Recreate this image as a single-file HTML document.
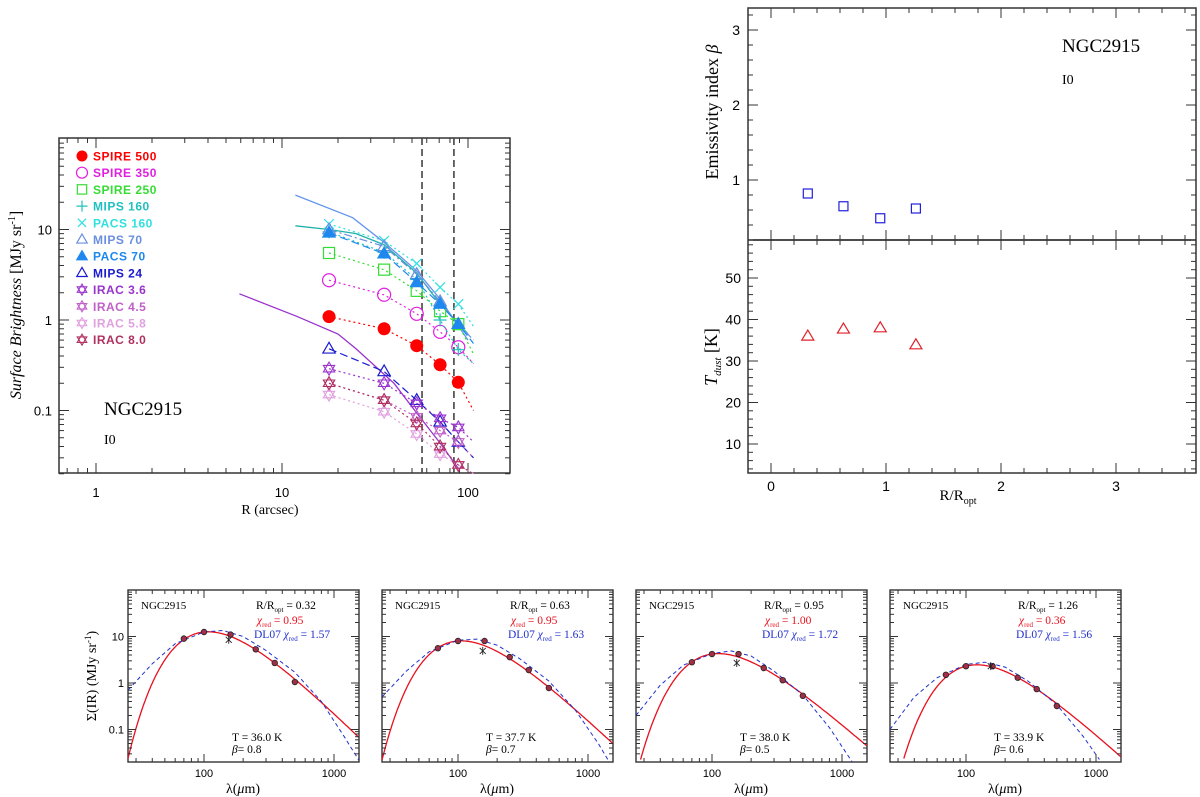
<!DOCTYPE html>
<html><head><meta charset="utf-8">
<style>
html,body{margin:0;padding:0;background:#fff;}
svg{display:block;font-family:"Liberation Sans",sans-serif;}
.serif{font-family:"Liberation Serif",serif;}
</style></head>
<body>
<svg id="fig" width="1200" height="797" viewBox="0 0 1200 797" xmlns="http://www.w3.org/2000/svg"></svg>
<script>
// ---------- Left panel data ----------
const radii = [17.9, 35.4, 53, 70.8, 88.7];
const bandNames = ["SPIRE 500","SPIRE 350","SPIRE 250","MIPS 160","PACS 160","MIPS 70","PACS 70","MIPS 24","IRAC 3.6","IRAC 4.5","IRAC 5.8","IRAC 8.0"];
const spire500 = [1.09, 0.8, 0.52, 0.32, 0.205];
const spire350 = [2.75, 1.9, 1.17, 0.74, 0.5];
const spire250 = [5.5, 3.6, 2.1, 1.25, 0.9];
const mips160 = [9.4, 5.6, 2.8, 1.0, 0.47];
const pacs160 = [11.5, 7.5, 4.2, 2.3, 1.5];
const mips70 = [10, 6.5, 3.2, 1.6, 0.9];
const pacs70 = [9.2, 5.4, 2.6, 1.5, 0.9];
const mips24 = [0.48, 0.27, 0.13, 0.075, 0.045];
const irac36 = [0.29, 0.2, 0.12, 0.082, 0.065];
const irac45 = [0.2, 0.13, 0.085, 0.06, 0.045];
const irac58 = [0.15, 0.097, 0.055, 0.033, 0.025];
const irac80 = [0.2, 0.13, 0.072, 0.04, 0.025];
const extR = 107;
const extVals = [0.1, 0.33, 0.42, 0.6, 0.85, 0.6, 0.55, 0.03, 0.045, 0.03, 0.02, 0.02];
const profR1 = [11.8, 24, 35.4, 53, 70.8, 100];
const profV1 = [24, 13.5, 7.2, 3.5, 1.7, 0.6];
const profR2 = [11.8, 17.9, 25, 35.4, 53, 70.8, 100];
const profV2 = [11, 10, 9, 6.8, 3.3, 1.5, 0.7];
const profR3 = [5.9, 12, 20, 25, 40, 55, 70, 90];
const profV3 = [1.95, 1.1, 0.7, 0.48, 0.2, 0.085, 0.045, 0.022];
const vlinesR = [56.6, 84];
// ---------- Right panels data ----------
const rRopt = [0.32, 0.63, 0.95, 1.26];
const betaVals = [0.82, 0.65, 0.49, 0.62];
const tdustVals = [36.0, 37.7, 38.0, 33.9];
// ---------- SED panels data ----------
const sedLam = [70, 100, 160, 250, 350, 500];
const sedP1 = [9, 12.5, 11, 5.3, 2.7, 1.05];
const sedP2 = [5.6, 8.0, 8.0, 3.6, 1.9, 0.78];
const sedP3 = [2.8, 4.2, 4.2, 2.1, 1.15, 0.53];
const sedP4 = [1.5, 2.3, 2.3, 1.3, 0.74, 0.32];
const mips160Sed = [8.5, 4.9, 2.7, 2.3];
const chiMBB = ["0.95", "0.95", "1.00", "0.36"];
const chiDL = ["1.57", "1.63", "1.72", "1.56"];
const dlLam = [26, 40, 60, 100, 140, 200, 300, 500, 800, 1200, 1550];
const dlP1 = [0.7, 2.6, 7, 12.5, 13.5, 10, 5, 1.7, 0.4, 0.07, 0.022];
const dlP2 = [0.5, 1.8, 4.7, 8.3, 8.8, 6.5, 3.3, 1.1, 0.26, 0.05, 0.015];
const dlP3 = [0.2, 0.9, 2.4, 4.3, 4.9, 3.8, 1.8, 0.55, 0.11, 0.02, 0.006];
const dlP4 = [0.1, 0.5, 1.3, 2.5, 2.8, 2.2, 1.1, 0.34, 0.07, 0.014, 0.005];

const NS = "http://www.w3.org/2000/svg";
const svg = document.getElementById("fig");
function mk(tag, attrs, parent) {
  const e = document.createElementNS(NS, tag);
  for (const k in attrs) e.setAttribute(k, attrs[k]);
  (parent || svg).appendChild(e);
  return e;
}
function grp(name) {
  const g = mk("g", {});
  
  
  return g;
}
function txt(g, x, y, s, attrs) {
  const t = mk("text", Object.assign({x: x, y: y}, attrs || {}), g);
  t.innerHTML = s;
  return t;
}
const L10 = Math.log10;

// ================= LEFT PANEL =================
const lx = r => 96 + 186 * L10(r);
const ly = v => 320 - 90.5 * L10(v);
{
  const g = grp("surface-brightness-panel");
  const fr = mk("rect", {x: 59, y: 138, width: 451, height: 335, fill: "none", stroke: "#333", "stroke-width": 1.5}, g);
  
  
  const ax = grp("axes-ticks");
  for (let d = -1; d <= 2; d++) for (let m = 1; m <= 9; m++) {
    const r = m * Math.pow(10, d);
    if (r < 0.63 || r > 168) continue;
    const x = lx(r), len = m === 1 ? 10 : 5;
    mk("line", {x1: x, y1: 473, x2: x, y2: 473 - len, stroke: "#333"}, ax);
    mk("line", {x1: x, y1: 138, x2: x, y2: 138 + len, stroke: "#333"}, ax);
  }
  for (let d = -2; d <= 1; d++) for (let m = 1; m <= 9; m++) {
    const v = m * Math.pow(10, d);
    if (v < 0.02 || v > 100) continue;
    const y = ly(v), len = m === 1 ? 10 : 5;
    mk("line", {x1: 59, y1: y, x2: 59 + len, y2: y, stroke: "#333"}, ax);
    mk("line", {x1: 510, y1: y, x2: 510 - len, y2: y, stroke: "#333"}, ax);
  }
  [[1,"1"],[10,"10"],[100,"100"]].forEach(p => {
    const t = txt(ax, lx(p[0]), 497, p[1], {"text-anchor": "middle", "font-size": 13});
    
    
  });
  [[10,"10"],[1,"1"],[0.1,"0.1"]].forEach(p => {
    const t = txt(ax, 52, ly(p[0]) + 5, p[1], {"text-anchor": "end", "font-size": 13});
    
    
  });
  const xt = txt(g, 270, 514, "R (arcsec)", {"text-anchor": "middle", "font-size": 14, "class": "serif"});
  
  
  const yt = txt(g, 0, 0, '<tspan font-style="italic">Surface Brightness</tspan> [MJy sr<tspan dy="-6" font-size="10">-1</tspan><tspan dy="6">]</tspan>', {"text-anchor": "middle", "font-size": 16, "class": "serif", transform: "translate(21,305) rotate(-90)"});
  
  
  const n1 = txt(g, 104, 415, "NGC2915", {"font-size": 19, "class": "serif"});
  
  
  const n2 = txt(g, 104, 444, "I0", {"font-size": 14, "class": "serif"});
  
  

  vlinesR.forEach(r => {
    const l = mk("line", {x1: lx(r), y1: 138, x2: lx(r), y2: 473, stroke: "#444", "stroke-width": 1.6, "stroke-dasharray": "7,4"}, g);
    
    
  });

  const pathOf = (rs, vs) => rs.map((r, i) => (i ? "L" : "M") + lx(r).toFixed(1) + "," + ly(vs[i]).toFixed(1)).join(" ");
  [[profR1, profV1, "#6495ed", "mips70-profile"], [profR2, profV2, "#20b2aa", "mips160-profile"], [profR3, profV3, "#9932cc", "irac36-profile"]].forEach(p => {
    const l = mk("path", {d: pathOf(p[0], p[1]), fill: "none", stroke: p[2], "stroke-width": 1.3}, g);
    
    
  });

  const series = [spire500, spire350, spire250, mips160, pacs160, mips70, pacs70, mips24, irac36, irac45, irac58, irac80];
  const colors = ["#ff0000","#e020e0","#33dd33","#20c0c0","#30e0e0","#6a8fe0","#1e88ee","#1a1ad0","#9933cc","#c060c8","#e0a0e0","#b03060"];
  const markers = ["fcircle","circle","square","plus","cross","tri","ftri","tri","star","star","star","star"];
  const dashes = ["2,3","2,3","2,3","2,3","2,3","8,3,2,3","8,4","8,4","2,3","2,3","2,3","2,3"];
  function marker(gg, type, x, y, c, s) {
    let e;
    if (type === "fcircle") e = mk("circle", {cx: x, cy: y, r: s, fill: c}, gg);
    else if (type === "circle") e = mk("circle", {cx: x, cy: y, r: s, fill: "none", stroke: c, "stroke-width": 1.2}, gg);
    else if (type === "square") e = mk("rect", {x: x - s * 0.85, y: y - s * 0.85, width: s * 1.7, height: s * 1.7, fill: "none", stroke: c, "stroke-width": 1.2}, gg);
    else if (type === "plus") e = mk("path", {d: `M${x-s},${y}H${x+s}M${x},${y-s}V${y+s}`, stroke: c, "stroke-width": 1.2}, gg);
    else if (type === "cross") e = mk("path", {d: `M${x-s*.75},${y-s*.75}L${x+s*.75},${y+s*.75}M${x-s*.75},${y+s*.75}L${x+s*.75},${y-s*.75}`, stroke: c, "stroke-width": 1.2}, gg);
    else if (type === "tri" || type === "ftri") e = mk("path", {d: `M${x},${y-s}L${x+s*.95},${y+s*.65}L${x-s*.95},${y+s*.65}Z`, fill: type === "ftri" ? c : "none", stroke: c, "stroke-width": 1.2}, gg);
    else if (type === "star") e = mk("path", {d: `M${x},${y-s}L${x+s*.87},${y+s*.5}L${x-s*.87},${y+s*.5}ZM${x},${y+s}L${x+s*.87},${y-s*.5}L${x-s*.87},${y-s*.5}Z`, fill: "none", stroke: c, "stroke-width": 1.1}, gg);
    return e;
  }
  series.forEach((vals, si) => {
    const sg = grp("series-" + bandNames[si].toLowerCase().replace(/[ .]/g, "-"));
    const ev = extVals[si] < vals[4] ? extVals[si] : vals[4] * 0.7;
    const d = pathOf(radii.concat([extR]), vals.concat([ev]));
    const l = mk("path", {d: d, fill: "none", stroke: colors[si], "stroke-width": 1.2, "stroke-dasharray": dashes[si]}, sg);
    
    
    radii.forEach((r, i) => {
      const m = marker(sg, markers[si], lx(r), ly(vals[i]), colors[si], 6.5);
      
      
    });
  });
  const lg = grp("legend");
  bandNames.forEach((n, i) => {
    const y = 156 + i * 16.7;
    const m = marker(lg, markers[i], 82, y, colors[i], 5.5);
    
    
    const t = txt(lg, 93, y + 4.5, n, {"font-size": 12, fill: colors[i], "font-weight": "bold", "letter-spacing": "0.5"});
    
    
  });
}

// ================= RIGHT PANELS =================
const rx = v => 771 + 115 * v;
const by = b => 180 - 75 * (b - 1);
const ty = t => 444 - 4.15 * (t - 10);
{
  const g = grp("beta-tdust-panels");
  const fr = mk("rect", {x: 748, y: 8, width: 448, height: 465, fill: "none", stroke: "#333", "stroke-width": 1.5}, g);
  
  
  const mid = mk("line", {x1: 748, y1: 240, x2: 1196, y2: 240, stroke: "#111", "stroke-width": 1.5}, g);
  
  
  const ax = grp("right-axes-ticks");
  for (let k = -1; k <= 18; k++) {
    const v = k * 0.2, x = rx(v);
    if (x < 748 || x > 1196) continue;
    const len = k % 5 === 0 ? 10 : 5;
    [[8, 1], [240, 1], [240, -1], [473, -1]].forEach(p => mk("line", {x1: x, y1: p[0], x2: x, y2: p[0] + p[1] * len, stroke: "#333"}, ax));
  }
  for (let k = 1; k <= 16; k++) {
    const b = k * 0.2, y = by(b);
    if (y < 8 || y > 240) continue;
    const len = k % 5 === 0 ? 10 : 5;
    mk("line", {x1: 748, y1: y, x2: 748 + len, y2: y, stroke: "#333"}, ax);
    mk("line", {x1: 1196, y1: y, x2: 1196 - len, y2: y, stroke: "#333"}, ax);
  }
  for (let t = 4; t <= 58; t += 2) {
    const y = ty(t), len = t % 10 === 0 ? 10 : 5;
    mk("line", {x1: 748, y1: y, x2: 748 + len, y2: y, stroke: "#333"}, ax);
    mk("line", {x1: 1196, y1: y, x2: 1196 - len, y2: y, stroke: "#333"}, ax);
  }
  [0,1,2,3].forEach(v => {
    const t = txt(ax, rx(v), 491, String(v), {"text-anchor": "middle", "font-size": 14});
    
    
  });
  [1,2,3].forEach(v => {
    const t = txt(ax, 740, by(v) + 5, String(v), {"text-anchor": "end", "font-size": 14});
    
    
  });
  [10,20,30,40,50].forEach(v => {
    const t = txt(ax, 741, ty(v) + 5, String(v), {"text-anchor": "end", "font-size": 14});
    
    
  });
  const xt = txt(g, 958, 500, 'R/R<tspan dy="4" font-size="10">opt</tspan>', {"text-anchor": "middle", "font-size": 15, "class": "serif"});
  
  
  const yt1 = txt(g, 0, 0, 'Emissivity index <tspan font-style="italic">β</tspan>', {"text-anchor": "middle", "font-size": 18, "class": "serif", transform: "translate(718,112) rotate(-90)"});
  
  
  const yt2 = txt(g, 0, 0, '<tspan font-style="italic">T</tspan><tspan dy="4" font-size="11" font-style="italic">dust</tspan><tspan dy="-4"> [K]</tspan>', {"text-anchor": "middle", "font-size": 18, "class": "serif", transform: "translate(717,357) rotate(-90)"});
  
  
  const n1 = txt(g, 1062, 52, "NGC2915", {"font-size": 19, "class": "serif"});
  
  
  const n2 = txt(g, 1062, 84, "I0", {"font-size": 14, "class": "serif"});
  
  
  rRopt.forEach((r, i) => {
    const s = mk("rect", {x: rx(r) - 4.5, y: by(betaVals[i]) - 4.5, width: 9, height: 9, fill: "none", stroke: "#2020dd", "stroke-width": 1.2}, g);
    
    
    const x = rx(r), y = ty(tdustVals[i]);
    const t = mk("path", {d: `M${x},${y-6}L${x+6},${y+4}L${x-6},${y+4}Z`, fill: "none", stroke: "#e0202a", "stroke-width": 1.2}, g);
    
    
  });
}

// ================= SED PANELS =================
const sedSets = [sedP1, sedP2, sedP3, sedP4];
const dlSets = [dlP1, dlP2, dlP3, dlP4];
for (let p = 0; p < 4; p++) {
  const L = 128 + 254 * p;
  const sx = l => L + 76 + 130 * L10(l / 100);
  const sy = v => 683 - 46.5 * L10(v);
  const g = grp("sed-panel-" + (p + 1));
  const fr = mk("rect", {x: L, y: 590, width: 231, height: 172, fill: "none", stroke: "#333", "stroke-width": 1.4}, g);
  
  
  const ax = grp("sed-axes-ticks");
  for (let d = 1; d <= 3; d++) for (let m = 1; m <= 9; m++) {
    const l = m * Math.pow(10, d);
    const x = sx(l);
    if (x < L || x > L + 231) continue;
    const len = m === 1 ? 8 : 4;
    mk("line", {x1: x, y1: 762, x2: x, y2: 762 - len, stroke: "#333"}, ax);
    mk("line", {x1: x, y1: 590, x2: x, y2: 590 + len, stroke: "#333"}, ax);
  }
  for (let d = -2; d <= 1; d++) for (let m = 1; m <= 9; m++) {
    const v = m * Math.pow(10, d), y = sy(v);
    if (y < 590 || y > 762) continue;
    const len = m === 1 ? 8 : 4;
    mk("line", {x1: L, y1: y, x2: L + len, y2: y, stroke: "#333"}, ax);
    mk("line", {x1: L + 231, y1: y, x2: L + 231 - len, y2: y, stroke: "#333"}, ax);
  }
  [[100,"100"],[1000,"1000"]].forEach(q => {
    const t = txt(ax, sx(q[0]), 777, q[1], {"text-anchor": "middle", "font-size": 11});
    
    
  });
  const xt = txt(g, L + 115, 793, 'λ(<tspan font-style="italic">μ</tspan>m)', {"text-anchor": "middle", "font-size": 14, "class": "serif"});
  
  
  if (p === 0) {
    [[10,"10"],[1,"1"],[0.1,"0.1"]].forEach(q => {
      const t = txt(ax, L - 4, sy(q[0]) + 4, q[1], {"text-anchor": "end", "font-size": 11});
      
      
    });
    const yt = txt(g, 0, 0, 'Σ(IR) (MJy sr<tspan dy="-5" font-size="9">-1</tspan><tspan dy="5">)</tspan>', {"text-anchor": "middle", "font-size": 14, "class": "serif", transform: "translate(96,676) rotate(-90)"});
    
    
  }
  const T = tdustVals[p], B = betaVals[p] < 0.55 ? 0.5 : Math.round(betaVals[p] * 10) / 10;
  const f = l => Math.pow(1 / l, 3 + B) / (Math.exp(14388 / (l * T)) - 1);
  const norm = sedSets[p][1] / f(100);
  let d = "";
  for (let i = 0; i <= 200; i++) {
    const l = Math.pow(10, L10(26) + i * (L10(1550) - L10(26)) / 200);
    const v = f(l) * norm;
    if (v < 0.02) continue;
    d += (d ? "L" : "M") + sx(l).toFixed(1) + "," + sy(v).toFixed(1);
  }
  const red = mk("path", {d: d, fill: "none", stroke: "#e8101e", "stroke-width": 1.3}, g);
  
  
  let dd = "";
  for (let i = 0; i < dlLam.length - 1; i++) {
    for (let k = 0; k < 10; k++) {
      const t = k / 10;
      const ll = L10(dlLam[i]) + t * (L10(dlLam[i + 1]) - L10(dlLam[i]));
      const lv = L10(dlSets[p][i]) + t * (L10(dlSets[p][i + 1]) - L10(dlSets[p][i]));
      const v = Math.pow(10, lv);
      if (v < 0.02) continue;
      dd += (dd ? "L" : "M") + sx(Math.pow(10, ll)).toFixed(1) + "," + sy(v).toFixed(1);
    }
  }
  const last = dlSets[p][dlLam.length - 1];
  if (last >= 0.02) dd += "L" + sx(1550).toFixed(1) + "," + sy(last).toFixed(1);
  const blue = mk("path", {d: dd, fill: "none", stroke: "#2030cc", "stroke-width": 1, "stroke-dasharray": "4,3"}, g);
  
  
  sedLam.forEach((l, i) => {
    const c = mk("circle", {cx: sx(l), cy: sy(sedSets[p][i]), r: 2.8, fill: "#a03048", stroke: "#222", "stroke-width": 0.8}, g);
    
    
  });
  const x160 = sx(155), y160 = sy(mips160Sed[p]);
  const ast = mk("path", {d: `M${x160-3},${y160-3}L${x160+3},${y160+3}M${x160-3},${y160+3}L${x160+3},${y160-3}M${x160},${y160-4}V${y160+4}`, stroke: "#222", "stroke-width": 0.9}, g);
  
  
  const a = txt(g, L + 13, 609, "NGC2915", {"font-size": 11, "class": "serif"});
  
  
  const b = txt(g, L + 128, 609, 'R/R<tspan dy="3" font-size="7">opt</tspan><tspan dy="-3"> = ' + rRopt[p].toFixed(2) + '</tspan>', {"font-size": 11.5, "class": "serif"});
  
  
  const c1 = txt(g, L + 129, 624, '<tspan font-style="italic">χ</tspan><tspan dy="3" font-size="7">red</tspan><tspan dy="-3"> = ' + chiMBB[p] + '</tspan>', {"font-size": 11.5, fill: "#e8101e", "class": "serif"});
  
  
  const c2 = txt(g, L + 126, 638, 'DL07 <tspan font-style="italic">χ</tspan><tspan dy="3" font-size="7">red</tspan><tspan dy="-3"> = ' + chiDL[p] + '</tspan>', {"font-size": 11.5, fill: "#2030cc", "class": "serif"});
  
  
  const t1 = txt(g, L + 104, 741, "T = " + tdustVals[p].toFixed(1) + " K", {"font-size": 11.5, "class": "serif"});
  
  
  const t2 = txt(g, L + 104, 753, '<tspan font-style="italic">β</tspan>= ' + [0.8, 0.7, 0.5, 0.6][p].toFixed(1), {"font-size": 11.5, "class": "serif"});
  
  
}
</script>
</body></html>
